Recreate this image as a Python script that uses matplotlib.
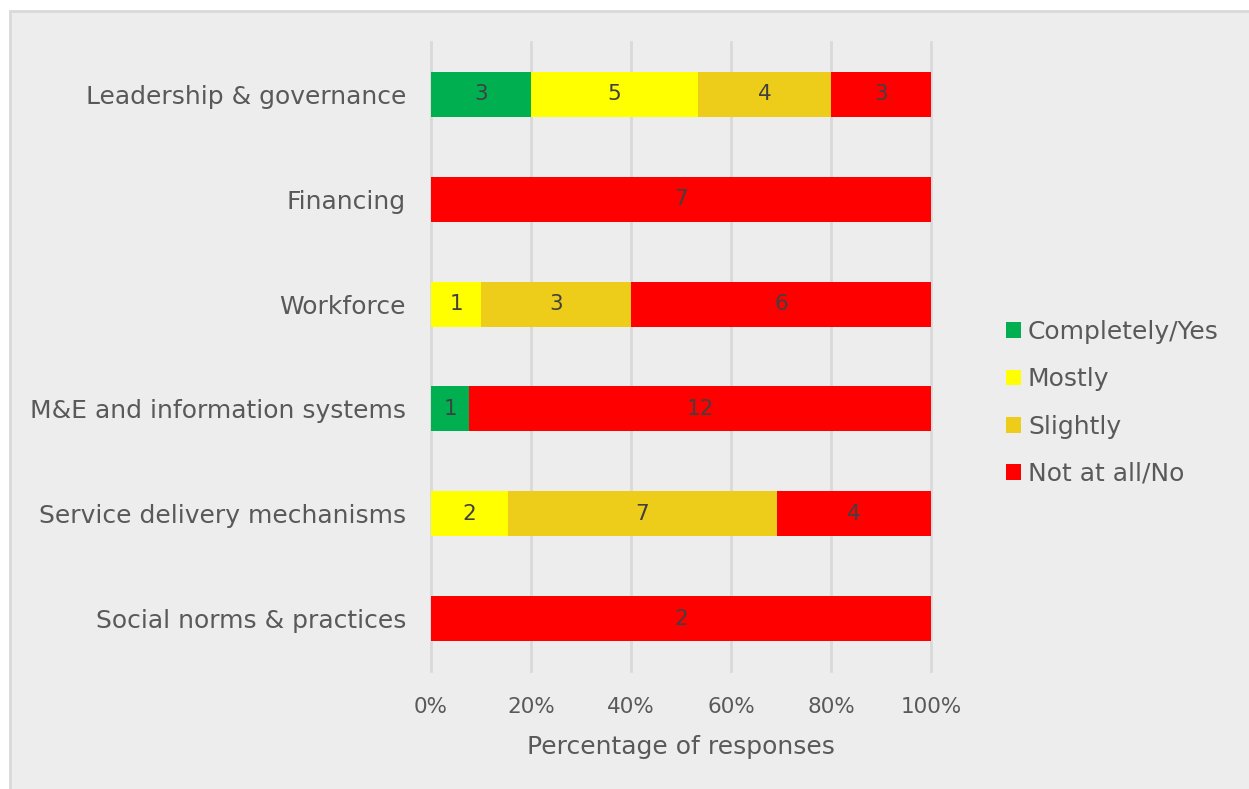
import matplotlib.pyplot as plt
import numpy as np
from matplotlib.patches import Rectangle, Patch

categories = ["Leadership & governance", "Financing", "Workforce",
              "M&E and information systems", "Service delivery mechanisms",
              "Social norms & practices"]
series_names = ["Completely/Yes", "Mostly", "Slightly", "Not at all/No"]
completely = [3, 0, 0, 1, 0, 0]
mostly = [5, 0, 1, 0, 2, 0]
slightly = [4, 0, 3, 0, 7, 0]
not_at_all = [3, 7, 6, 12, 4, 2]
colors = ["#00B050", "#FFFF00", "#EDCD1A", "#FF0000"]
tick_labels = ["0%", "20%", "40%", "60%", "80%", "100%"]

plt.rcParams['font.family'] = ['DejaVu Sans']
text_color = "#595959"

fig = plt.figure(figsize=(12.49, 7.89), dpi=100)
fig.patch.set_facecolor("white")
# grey panel with light border on top/left
fig.patches.append(Rectangle((10 / 1249, -0.05), 1.1, 1.05 - 11 / 789,
                             transform=fig.transFigure, facecolor="#EDEDED",
                             edgecolor="#D9D9D9", linewidth=2, zorder=-5))

ax = fig.add_axes([431 / 1249, 1 - 671 / 789, 500 / 1249, 629 / 789])
ax.set_facecolor("none")

data = np.array([completely, mostly, slightly, not_at_all], dtype=float)
totals = data.sum(axis=0)
pct = data / totals

y = np.arange(len(categories))
left = np.zeros(len(categories))
for i, name in enumerate(series_names):
    ax.barh(y, pct[i], left=left, height=0.43, color=colors[i], label=name, zorder=2)
    for j in range(len(categories)):
        if data[i, j] > 0:
            ax.text(left[j] + pct[i, j] / 2, y[j], f"{int(data[i, j])}",
                    ha="center", va="center", fontsize=15.5, color="#404040", zorder=3)
    left += pct[i]

ax.set_ylim(len(categories) - 0.5, -0.5)
ax.set_xlim(0, 1)
ax.set_xticks(np.linspace(0, 1, 6))
ax.set_xticklabels(tick_labels)
ax.set_yticks(y)
ax.set_yticklabels(categories)
ax.tick_params(axis="both", length=0, labelcolor=text_color)
ax.tick_params(axis="x", labelsize=15.5, pad=19)
ax.tick_params(axis="y", labelsize=18, pad=18)
ax.xaxis.grid(True, color="#D9D9D9", linewidth=2, zorder=0)
for line in ax.get_xgridlines():
    line.set_clip_on(False)
ax.set_axisbelow(True)
for s in ax.spines.values():
    s.set_visible(False)
ax.set_xlabel("Percentage of responses", fontsize=18, color=text_color, labelpad=13)

handles = [Patch(facecolor=c) for c in colors]
fig.legend(handles, series_names, loc="center left", bbox_to_anchor=(983 / 1249, 1 - 403 / 789),
           frameon=False, fontsize=18, labelcolor=text_color, handlelength=0.6,
           handleheight=0.6, handletextpad=0.3, labelspacing=0.93)

plt.savefig("out.png", dpi=100)
plt.close()
